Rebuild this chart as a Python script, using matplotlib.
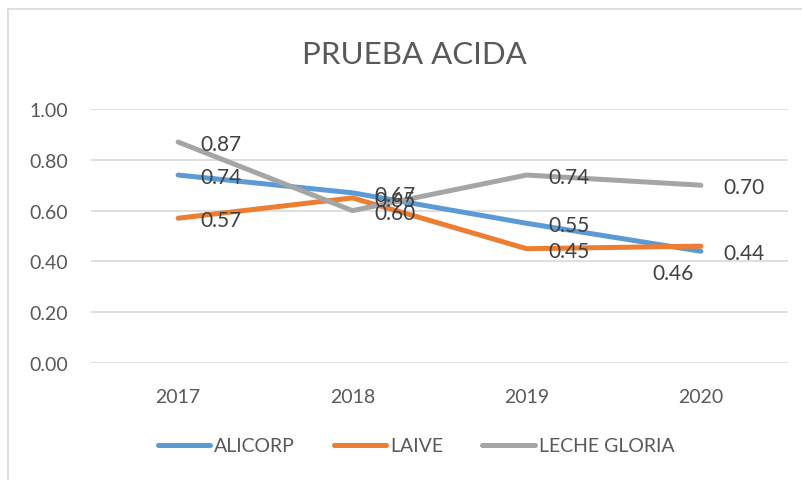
import matplotlib.pyplot as plt
from matplotlib.lines import Line2D

years = ["2017", "2018", "2019", "2020"]
alicorp = [0.74, 0.67, 0.55, 0.44]
laive = [0.57, 0.65, 0.45, 0.46]
gloria = [0.87, 0.60, 0.74, 0.70]

plt.rcParams['font.family'] = ['Lato', 'DejaVu Sans']

W, H = 803, 481
fig = plt.figure(figsize=(W / 100, H / 100), dpi=100)
ax = fig.add_axes([91 / W, (H - 364) / H, 697 / W, 254 / H])

x = list(range(len(years)))
series = [
    ("ALICORP", alicorp, "#5B9BD5"),
    ("LAIVE", laive, "#ED7D31"),
    ("LECHE GLORIA", gloria, "#A5A5A5"),
]
for name, vals, col in series:
    ax.plot(x, vals, color=col, lw=3.6, label=name, solid_capstyle='round', solid_joinstyle='round')

# data labels (Excel: right of point, one below)
for name, vals, col in series:
    for i, v in enumerate(vals):
        if name == "LAIVE" and i == 3:
            off, ha, va = (-20, -19), 'center', 'center'
        else:
            off, ha, va = (16, -1.5), 'left', 'center'
        ax.annotate(f"{v:.2f}", (i, v), xytext=off, textcoords='offset points',
                    ha=ha, va=va, fontsize=15, color='#404040')

ax.set_xlim(-0.5, 3.5)
ax.set_ylim(0, 1.0)
ax.set_yticks([0, 0.2, 0.4, 0.6, 0.8, 1.0])
ax.set_yticklabels([f"{t:.2f}" for t in [0, 0.2, 0.4, 0.6, 0.8, 1.0]])
ax.set_xticks(x)
ax.set_xticklabels(years)
ax.grid(axis='y', color='#D9D9D9', lw=1.2)
ax.set_axisbelow(True)
for s in ax.spines.values():
    s.set_visible(False)
ax.tick_params(length=0, labelsize=14, colors='#595959')
ax.tick_params(axis='y', pad=16.5)
ax.tick_params(axis='x', pad=18)

fig.text(414 / W, 1 - 55 / H, "PRUEBA ACIDA", ha='center', va='center', fontsize=22.5, color='#595959')

fig.legend(loc='center', bbox_to_anchor=(416 / W, 1 - 447 / H), ncol=3, frameon=False,
           fontsize=14, labelcolor='#595959', handlelength=2.7, handletextpad=0.2,
           columnspacing=2.0)

# chart border
fig.add_artist(Line2D([8 / W, 8 / W], [0, 1 - 10 / H], color='#D9D9D9', lw=1.2))
fig.add_artist(Line2D([8 / W, 1], [1 - 10 / H, 1 - 10 / H], color='#D9D9D9', lw=1.2))

fig.savefig("out.png", dpi=100)
